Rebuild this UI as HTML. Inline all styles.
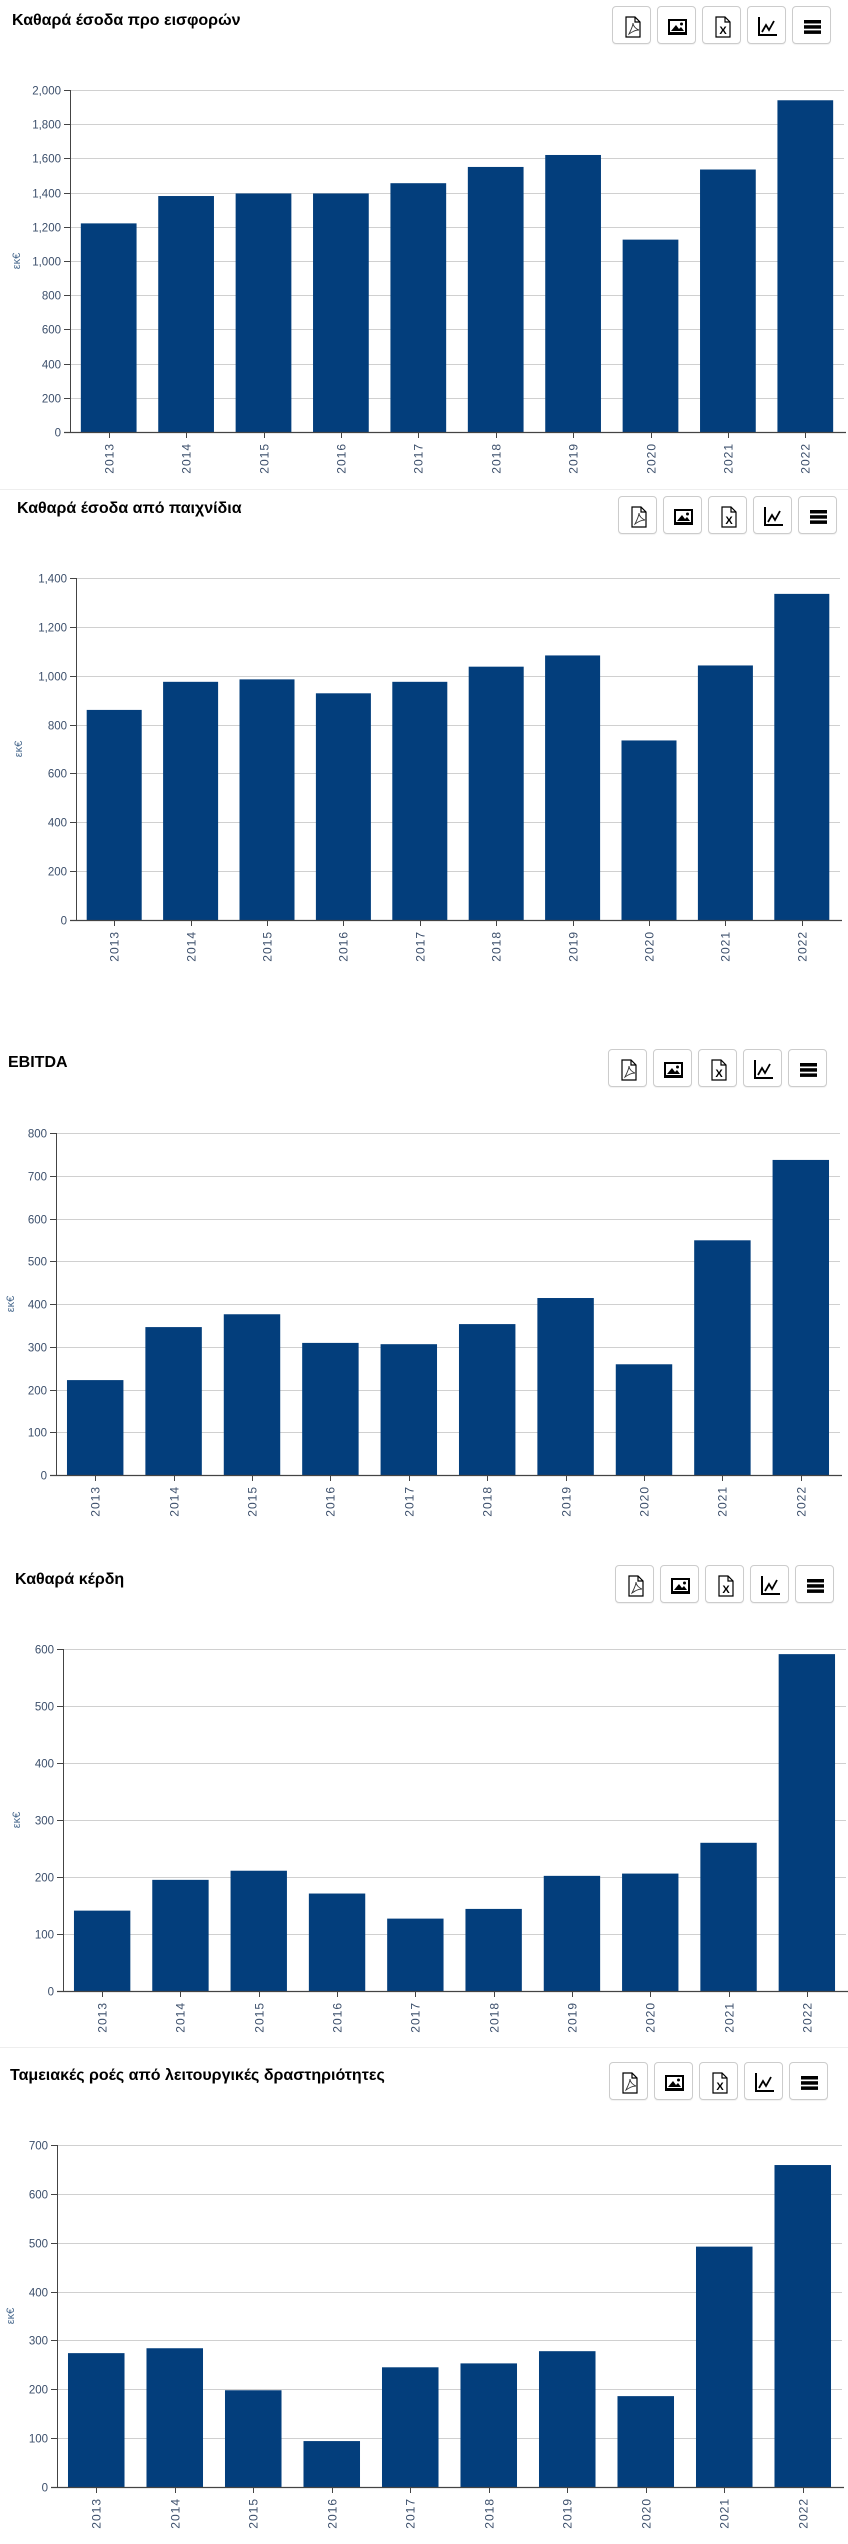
<!DOCTYPE html>
<html><head><meta charset="utf-8">
<style>
html,body{margin:0;padding:0;background:#fff;width:848px;height:2544px;overflow:hidden;font-family:"Liberation Sans",Arial,sans-serif;}
#root{position:relative;width:848px;height:2544px;}
.title{position:absolute;font-weight:bold;font-size:16px;color:#000;white-space:nowrap;line-height:20px;}
.btn{position:absolute;width:37px;height:36px;border:1px solid #ccc;border-radius:4px;background:#fff;box-shadow:0 1px 1px rgba(0,0,0,0.06);}
.btn svg{position:absolute;left:8px;top:8px;}
.sep{position:absolute;left:0;width:848px;height:1px;background:#eee;}
svg.chart{position:absolute;left:0;top:0;}
</style></head>
<body>
<div id="root"></div>
<script>
// ---- data ----
const years = ['2013','2014','2015','2016','2017','2018','2019','2020','2021','2022'];
const netRevenueBeforeLevies = [1220,1380,1395,1395,1455,1550,1620,1125,1535,1940];
const netGamingRevenue = [860,975,985,928,975,1037,1083,735,1042,1335];
const ebitda = [222,346,376,309,306,353,414,259,549,737];
const netProfit = [141,195,211,171,127,144,202,206,260,591];
const operatingCashFlow = [274,284,198,94,245,253,278,186,492,659];
const ticks1 = [0,200,400,600,800,1000,1200,1400,1600,1800,2000];
const ticks2 = [0,200,400,600,800,1000,1200,1400];
const ticks3 = [0,100,200,300,400,500,600,700,800];
const ticks4 = [0,100,200,300,400,500,600];
const ticks5 = [0,100,200,300,400,500,600,700];
const titles = ['Καθαρά έσοδα προ εισφορών','Καθαρά έσοδα από παιχνίδια','EBITDA','Καθαρά κέρδη','Ταμειακές ροές από λειτουργικές δραστηριότητες'];

const layouts = [
 {name:'net-revenue-before-levies', values:netRevenueBeforeLevies, ticks:ticks1, tx:12, ty:11, bx:612, by:6, ax:70, top:90, y0:432, right:844, yt:20},
 {name:'net-gaming-revenue', values:netGamingRevenue, ticks:ticks2, tx:17, ty:499, bx:618, by:496, ax:76, top:578, y0:920, right:840, yt:22},
 {name:'ebitda', values:ebitda, ticks:ticks3, tx:8, ty:1053, bx:608, by:1049, ax:56, top:1133, y0:1475, right:840, yt:14},
 {name:'net-profit', values:netProfit, ticks:ticks4, tx:15, ty:1570, bx:615, by:1565, ax:63, top:1649, y0:1991, right:846, yt:20},
 {name:'operating-cash-flow', values:operatingCashFlow, ticks:ticks5, tx:10, ty:2066, bx:609, by:2062, ax:57, top:2145, y0:2487, right:842, yt:14}
];
const seps = [489, 2047];

const root = document.getElementById('root');
const NS = 'http://www.w3.org/2000/svg';
function mk(tag, attrs){const e=document.createElementNS(NS,tag);for(const k in attrs)e.setAttribute(k,attrs[k]);return e;}

seps.forEach(y=>{
  const d=document.createElement('div');
  d.className='sep';d.style.top=y+'px';
  
  
  root.appendChild(d);
});

const icons = [
 ['export-pdf-button','<path d="M5 2h9l5 5v15H5z" fill="#fff" stroke="#000" stroke-width="1.2"/><path d="M14 2v5h5" fill="none" stroke="#000" stroke-width="1.2"/><path d="M8 19c2-4 4-8 4-11c0 3 3 6 6 7c-4 0-7 2-10 4z" fill="none" stroke="#333" stroke-width="0.9"/>'],
 ['export-image-button','<rect x="2" y="4" width="19" height="16" fill="#000"/><rect x="4" y="6" width="15" height="11" fill="#fff"/><path d="M5 16l5-6 3 4 2-2 3 4z" fill="#000"/><circle cx="15.5" cy="9" r="1.5" fill="#000"/>'],
 ['export-excel-button','<path d="M5 2h9l5 5v15H5z" fill="#fff" stroke="#000" stroke-width="1.2"/><path d="M14 2v5h5" fill="none" stroke="#000" stroke-width="1.2"/><text x="12" y="19" font-size="11" font-weight="bold" text-anchor="middle" font-family="Liberation Sans">X</text>'],
 ['chart-type-button','<path d="M3 2v18h18" fill="none" stroke="#000" stroke-width="2"/><path d="M6 17l4-7 3 5 5-9" fill="none" stroke="#000" stroke-width="1.8"/>'],
 ['menu-button','<rect x="3" y="5" width="17" height="3.5" fill="#000"/><rect x="3" y="10.2" width="17" height="3.5" fill="#000"/><rect x="3" y="15.4" width="17" height="3.5" fill="#000"/>']
];

layouts.forEach((L,ci)=>{
  const t=document.createElement('div');
  t.className='title';t.style.left=L.tx+'px';t.style.top=L.ty+'px';
  t.textContent=titles[ci];
  
  
  root.appendChild(t);
  icons.forEach((ic,i)=>{
    const b=document.createElement('div');
    b.className='btn';b.style.left=(L.bx+i*45)+'px';b.style.top=L.by+'px';
    b.innerHTML='<svg width="23" height="23" viewBox="0 0 23 23">'+ic[1]+'</svg>';
    
    
    root.appendChild(b);
  });

  const svg=mk('svg',{class:'chart',width:848,height:2544});
  
  
  const maxV=L.ticks[L.ticks.length-1];
  const yS=v=>L.y0-(v/maxV)*(L.y0-L.top);
  const band=(L.right-L.ax)/years.length;
  const bw=band*0.72;
  const xC=i=>L.ax+band*(i+0.5);
  L.ticks.forEach(v=>{
    const y=Math.round(yS(v))+0.5;
    if(v>0){
      const g=mk('line',{x1:L.ax,x2:L.right,y1:y,y2:y,stroke:'#d0d0d0','stroke-width':1});
      
      
      svg.appendChild(g);
    }
    const tk=mk('line',{x1:L.ax-6,x2:L.ax,y1:y,y2:y,stroke:'#444','stroke-width':1});
    
    
    svg.appendChild(tk);
    const tl=mk('text',{x:L.ax-9,y:y+4,'text-anchor':'end','font-size':11.5,fill:'#3c4f6b','font-family':'Liberation Sans'});
    tl.textContent=v.toLocaleString('en-US');
    
    
    svg.appendChild(tl);
  });
  L.values.forEach((v,i)=>{
    const y=yS(v);
    const r=mk('rect',{x:xC(i)-bw/2,y:y,width:bw,height:L.y0-y,fill:'#033e7c'});
    
    
    svg.appendChild(r);
  });
  const ay=mk('line',{x1:L.ax+0.5,x2:L.ax+0.5,y1:L.top,y2:L.y0,stroke:'#444','stroke-width':1});
  
  
  svg.appendChild(ay);
  const ax=mk('line',{x1:L.ax-6,x2:L.right+2,y1:L.y0+0.5,y2:L.y0+0.5,stroke:'#444','stroke-width':1.2});
  
  
  svg.appendChild(ax);
  years.forEach((yr,i)=>{
    const x=Math.round(xC(i))+0.5;
    const tk=mk('line',{x1:x,x2:x,y1:L.y0,y2:L.y0+6,stroke:'#444','stroke-width':1});
    
    
    svg.appendChild(tk);
    const tl=mk('text',{x:0,y:0,'text-anchor':'end','font-size':12,fill:'#3c4f6b','font-family':'Liberation Sans','letter-spacing':'1',transform:'translate('+(x+4)+','+(L.y0+11)+') rotate(-90)'});
    tl.textContent=yr;
    
    
    svg.appendChild(tl);
  });
  const yt=mk('text',{x:0,y:0,'text-anchor':'middle','font-size':11,fill:'#4a6a8e','font-family':'Liberation Sans',transform:'translate('+L.yt+','+((L.top+L.y0)/2)+') rotate(-90)'});
  yt.textContent='εκ€';
  
  
  svg.appendChild(yt);
  root.appendChild(svg);
});
</script>
</body></html>
